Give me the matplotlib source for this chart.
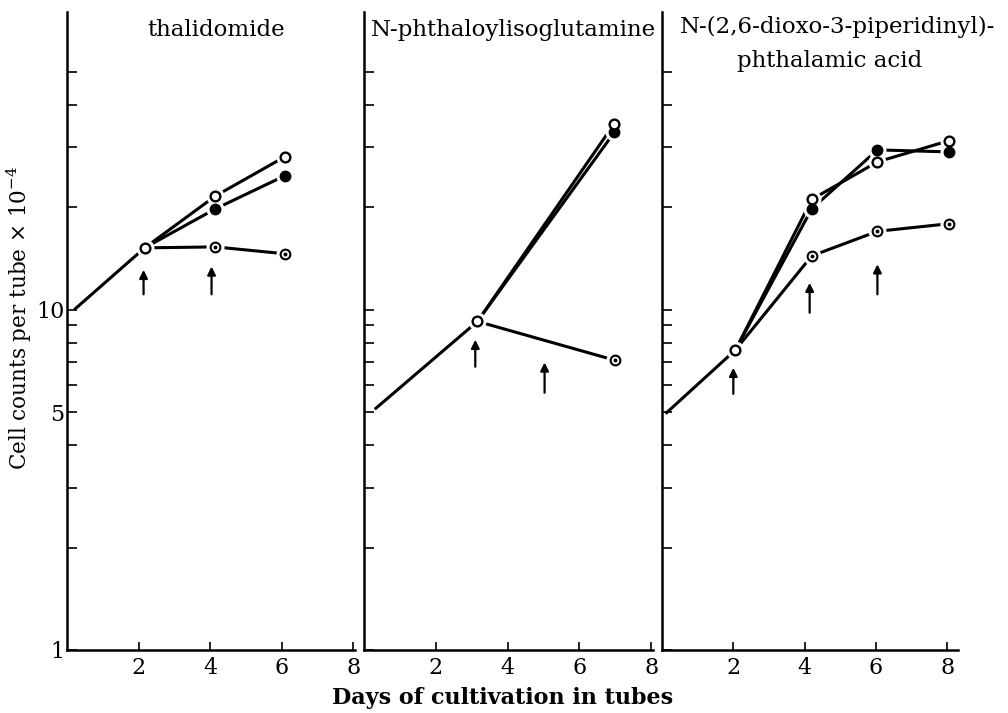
import matplotlib
matplotlib.use("Agg")
import matplotlib.pyplot as plt
from matplotlib.ticker import NullFormatter

plt.rcParams["font.family"] = "DejaVu Serif"
plt.rcParams["mathtext.fontset"] = "dejavuserif"

# ---------------- data (cell counts x 1e-4, days) ----------------
# thalidomide
thal_pre_days = [0.2, 2.17]
thal_pre = [10.0, 15.2]
thal_days = [2.17, 4.15, 6.1]
thal_open = [15.2, 21.6, 28.2]
thal_filled = [15.2, 19.8, 24.8]
thal_dot = [15.2, 15.3, 14.6]
thal_arrows = [(2.14, 11.1, 13.1), (4.04, 11.1, 13.4)]

# N-phthaloylisoglutamine
pig_pre_days = [0.3, 3.16]
pig_pre = [5.1, 9.24]
pig_days = [3.16, 6.97]
pig_open = [9.24, 35.2]
pig_filled = [9.24, 33.2]
pig_dot_days = [3.16, 7.0]
pig_dot = [9.24, 7.1]
pig_arrows = [(3.1, 6.8, 8.16), (5.03, 5.7, 7.0)]

# N-(2,6-dioxo-3-piperidinyl)-phthalamic acid
pa_pre_days = [0.1, 2.06]
pa_pre = [4.95, 7.62]
pa_days = [2.06, 4.2, 6.04, 8.05]
pa_open = [7.62, 21.1, 27.2, 31.4]
pa_filled = [7.62, 19.8, 29.5, 29.1]
pa_dot = [7.62, 14.4, 17.0, 17.9]
pa_arrows = [(2.0, 5.66, 6.75), (4.14, 9.8, 12.0), (6.04, 11.1, 13.6)]

y_major = [1, 5, 10]
y_minor = [2, 3, 4, 6, 7, 8, 9, 20, 30, 40, 50]
x_ticks = [2, 4, 6, 8]

W, H = 1008, 713
fig = plt.figure(figsize=(W / 100, H / 100), dpi=100)

y_bot, y_top = 650, 12


def make_ax(left_px, width_px, xmax):
    ax = fig.add_axes([left_px / W, (H - y_bot) / H, width_px / W, (y_bot - y_top) / H])
    ax.set_yscale("log")
    ax.set_ylim(1, 75)
    ax.set_xlim(0, xmax)
    for s in ["top", "right"]:
        ax.spines[s].set_visible(False)
    for s in ["left", "bottom"]:
        ax.spines[s].set_linewidth(1.8)
    ax.set_yticks(y_major)
    ax.set_yticks(y_minor, minor=True)
    ax.yaxis.set_minor_formatter(NullFormatter())
    ax.set_xticks(x_ticks)
    ax.set_xticklabels([str(t) for t in x_ticks])
    ax.tick_params(axis="y", which="both", direction="in", length=7, width=1.2, pad=2, labelsize=16)
    ax.tick_params(axis="x", direction="in", length=6, width=1.2, pad=5, labelsize=16)
    ax.patch.set_alpha(0)
    return ax


def line(ax, x, y, lw=2.2):
    ax.plot(x, y, color="black", lw=lw, solid_capstyle="butt", zorder=2)


def marks(ax, x, y, kind):
    # white halo makes the gap between line and marker
    ax.plot(x, y, "o", ms=12, mfc="white", mec="white", zorder=3)
    if kind == "open":
        ax.plot(x, y, "o", ms=7, mfc="white", mec="black", mew=1.7, zorder=4)
    elif kind == "filled":
        ax.plot(x, y, "o", ms=7.5, mfc="black", mec="black", zorder=4)
    else:
        ax.plot(x, y, "o", ms=7, mfc="white", mec="black", mew=1.5, zorder=4)
        ax.plot(x, y, "o", ms=1.8, mfc="black", mec="black", zorder=5)


def arrows(ax, arr):
    for x, tail, head in arr:
        ax.annotate("", xy=(x, head), xytext=(x, tail),
                    arrowprops=dict(arrowstyle="-|>", color="black", lw=1.6,
                                    mutation_scale=12, shrinkA=0, shrinkB=0))


# panel 1
ax1 = make_ax(67, 288, 8.05)
ax1.set_yticklabels(["1", "5", "10"])
line(ax1, thal_pre_days, thal_pre)
line(ax1, thal_days, thal_open)
line(ax1, thal_days, thal_filled)
line(ax1, thal_days, thal_dot)
marks(ax1, thal_days[1:], thal_filled[1:], "filled")
marks(ax1, thal_days, thal_open, "open")
marks(ax1, thal_days[1:], thal_dot[1:], "dot")
arrows(ax1, thal_arrows)

# panel 2
ax2 = make_ax(364, 289, 8.05)
ax2.set_yticklabels(["", "", ""])
line(ax2, pig_pre_days, pig_pre)
line(ax2, pig_days, pig_open)
line(ax2, pig_days, pig_filled)
line(ax2, pig_dot_days, pig_dot)
marks(ax2, pig_days[1:], pig_filled[1:], "filled")
marks(ax2, pig_days, pig_open, "open")
marks(ax2, pig_dot_days[1:], pig_dot[1:], "dot")
arrows(ax2, pig_arrows)

# panel 3
ax3 = make_ax(662, 296, 8.3)
ax3.set_yticklabels(["", "", ""])
line(ax3, pa_pre_days, pa_pre)
line(ax3, pa_days, pa_open)
line(ax3, pa_days, pa_filled)
line(ax3, pa_days, pa_dot)
marks(ax3, pa_days[1:], pa_filled[1:], "filled")
marks(ax3, pa_days, pa_open, "open")
marks(ax3, pa_days[1:], pa_dot[1:], "dot")
arrows(ax3, pa_arrows)

# titles and axis labels
def ftext(x, y, s, **kw):
    fig.text(x / W, 1 - y / H, s, ha="center", va="center", **kw)


ftext(216, 30, "thalidomide", fontsize=16.5)
ftext(513, 30, "N-phthaloylisoglutamine", fontsize=16.5)
ftext(838, 27, "N-(2,6-dioxo-3-piperidinyl)-", fontsize=16.5)
ftext(830, 61, "phthalamic acid", fontsize=16.5)
ftext(503, 698, "Days of cultivation in tubes", fontsize=16, fontweight="bold")
ftext(19, 318, r"Cell counts per tube $\times$ 10$^{-4}$", fontsize=15.5, rotation=90)

fig.savefig("out.png", dpi=100)
